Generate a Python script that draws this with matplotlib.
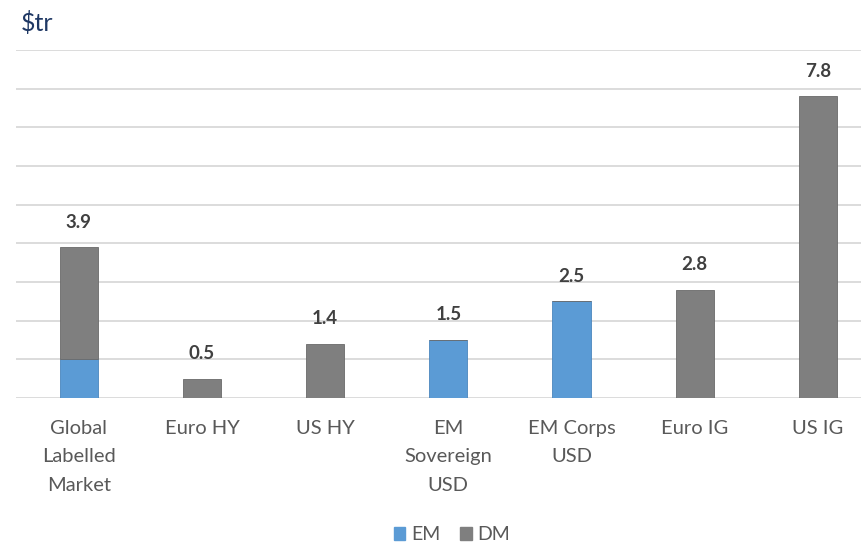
import matplotlib.pyplot as plt
from matplotlib.patches import Patch

categories = ["Global\nLabelled\nMarket", "Euro HY", "US HY", "EM\nSovereign\nUSD",
              "EM Corps\nUSD", "Euro IG", "US IG"]
em = [1.0, 0, 0, 1.5, 2.5, 0, 0]
dm = [2.9, 0.5, 1.4, 0, 0, 2.8, 7.8]
totals = ["3.9", "0.5", "1.4", "1.5", "2.5", "2.8", "7.8"]

blue = "#5B9BD5"
grey = "#7F7F7F"
plt.rcParams['font.family'] = ['Lato', 'DejaVu Sans']

fig = plt.figure(figsize=(8.61, 5.43), dpi=100)
ax = fig.add_axes([0.0186, 0.267, 0.9814, 0.641])
x = list(range(len(categories)))
ax.bar(x, em, width=0.31, color=blue, edgecolor="#4A86BD", linewidth=0.6, zorder=3)
ax.bar(x, dm, bottom=em, width=0.31, color=grey, edgecolor="#6A6A6A", linewidth=0.6, zorder=3)

for i in x:
    ax.annotate(totals[i], (i, em[i] + dm[i]), xytext=(0, 12), textcoords="offset points",
                ha="center", va="bottom", fontsize=13.5, fontweight="bold", color="#404040")

ax.set_ylim(0, 9)
ax.set_xlim(-0.51, 6.35)
ax.set_yticks(range(0, 10))
ax.yaxis.grid(True, color="#D9D9D9", linewidth=1.3, zorder=0)
ax.tick_params(axis="y", left=False, labelleft=False)
ax.set_xticks(x)
ax.set_xticklabels(categories, fontsize=14.5, color="#595959", linespacing=1.8)
ax.tick_params(axis="x", length=0, pad=16)
for s in ax.spines.values():
    s.set_visible(False)

fig.text(0.024, 0.958, "$tr", fontsize=18, color="#1F3864", ha="left", va="center")

handles = [Patch(color=blue, label="EM"), Patch(color=grey, label="DM")]
fig.legend(handles=handles, loc="center", bbox_to_anchor=(0.525, 0.015), ncol=2,
           frameon=False, fontsize=14, handlelength=0.6, handleheight=0.6,
           handletextpad=0.3, columnspacing=1.0, labelcolor="#595959")

fig.savefig("out.png", dpi=100)
